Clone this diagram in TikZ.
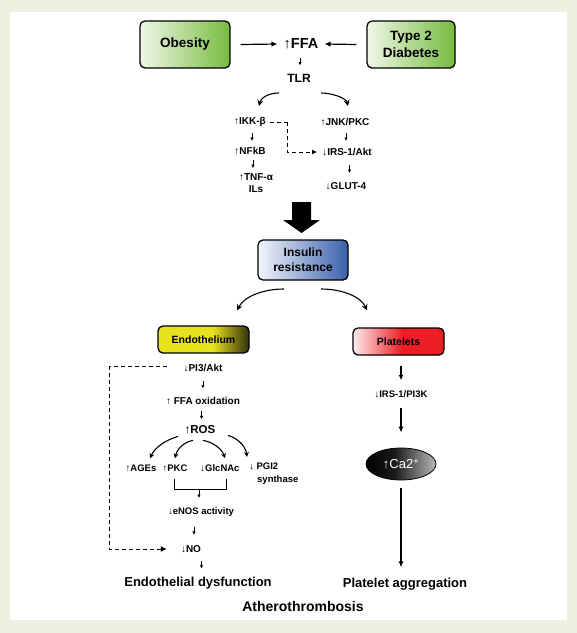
\documentclass[tikz,border=0pt]{standalone}
\usepackage{fontspec}
\setmainfont{Liberation Sans}
\usetikzlibrary{arrows.meta,calc,shapes.geometric}
\definecolor{bgbeige}{RGB}{240,240,226}
\definecolor{obL}{RGB}{240,247,232}
\definecolor{obR}{RGB}{118,188,64}
\definecolor{inL}{RGB}{244,247,252}
\definecolor{inR}{RGB}{58,96,172}
\definecolor{enY}{RGB}{232,226,30}
\definecolor{enD}{RGB}{50,48,12}
\definecolor{plL}{RGB}{253,236,238}
\definecolor{plR}{RGB}{236,30,38}
\definecolor{caR}{RGB}{185,185,185}
\pgfdeclarehorizontalshading{obshade}{100bp}{color(0bp)=(obL); color(25bp)=(obL); color(75bp)=(obR); color(100bp)=(obR)}
\pgfdeclarehorizontalshading{inshade}{100bp}{color(0bp)=(inL); color(25bp)=(inL); color(75bp)=(inR); color(100bp)=(inR)}
\pgfdeclarehorizontalshading{enshade}{100bp}{color(0bp)=(enY); color(25bp)=(enY); color(55bp)=(enY); color(75bp)=(enD); color(100bp)=(enD)}
\pgfdeclarehorizontalshading{plshade}{100bp}{color(0bp)=(plL); color(25bp)=(plL); color(52bp)=(plR); color(100bp)=(plR)}
\pgfdeclarehorizontalshading{cashade}{100bp}{color(0bp)=(black); color(25bp)=(black); color(45bp)=(black!90); color(75bp)=(caR); color(100bp)=(caR)}
\begin{document}
\begin{tikzpicture}[x=1pt,y=-1pt,
  box/.style={draw=black, line width=1.3pt, rounded corners=5pt, align=center, inner sep=0pt},
  lbl/.style={font=\bfseries\fontsize{10}{12}\selectfont, inner sep=1pt},
  slbl/.style={font=\bfseries\fontsize{9.5}{13}\selectfont, inner sep=1pt},
  sarr/.style={-{Latex[length=3.5pt,width=3.5pt]}, line width=0.9pt},
  harr/.style={-{Latex[length=6pt,width=5.5pt]}, line width=1.2pt},
  carr/.style={-{Stealth[length=6pt,width=6pt]}, line width=1.1pt},
  rarr/.style={-{Stealth[length=5pt,width=5pt]}, line width=1.1pt},
  varr/.style={-{Latex[length=6pt,width=5pt]}, line width=1.1pt},
  dline/.style={dash pattern=on 4pt off 3pt, line width=1pt}]
\useasboundingbox (0,0) rectangle (577,633);
\fill[bgbeige] (0,0) rectangle (577,633);
\fill[white] (10,12) rectangle (567,620);

% top row
\node[box, shading=obshade, minimum width=90pt, minimum height=47pt,
      font=\bfseries\fontsize{13.5}{17}\selectfont] (obesity) at (185,44.5) {Obesity};
\node[box, shading=obshade, minimum width=88pt, minimum height=47pt,
      font=\bfseries\fontsize{13.5}{17}\selectfont] (t2d) at (411,44.5) {Type 2\\Diabetes};
\node[font=\bfseries\fontsize{14.5}{16}\selectfont, inner sep=1pt] (ffa) at (301,44) {↑FFA};
\node[font=\bfseries\fontsize{12}{14}\selectfont, inner sep=1pt] (tlr) at (299,78) {TLR};
\draw[harr] ($(obesity.east)+(10,0)$) -- ($(ffa.west)+(-5,0)$);
\draw[harr] ($(t2d.west)+(-10,0)$) -- ($(ffa.east)+(5,0)$);
\draw[sarr] ($(ffa.south)!.5!(tlr.north)+(0,-4)$) -- ++(0,8);

% TLR branches
\node[lbl] (ikk) at (250,122) {↑IKK-β};
\node[lbl] (jnk) at (345,122) {↑JNK/PKC};
\node[lbl] (nfkb) at (250,151) {↑NFkB};
\node[lbl, align=center] (tnf) at (256,183) {↑TNF-α\\ILs};
\node[lbl] (irs) at (347,152) {↓IRS-1/Akt};
\node[lbl] (glut) at (346,186) {↓GLUT-4};
\coordinate (tlrL) at (279,93);
\coordinate (tlrR) at (321,93);
\draw[carr] (tlrL) .. controls (268,93) and (261,98) .. ($(ikk.north |- 0,106)+(9,0)$);
\draw[carr] (tlrR) .. controls (332,93) and (346,98) .. ($(jnk.north |- 0,106)+(3,0)$);
\draw[sarr] ($(ikk.south)!.5!(nfkb.north)+(2,-4)$) -- ++(0,8);
\draw[sarr] ($(nfkb.south)!.5!(tnf.north)+(0,-4)$) -- ++(0,8);
\draw[sarr] ($(jnk.south)!.5!(irs.north)+(0,-4)$) -- ++(0,8);
\draw[sarr] ($(irs.south)!.5!(glut.north)+(3,-4)$) -- ++(0,8);
\draw[dline] ($(ikk.east)+(3,0)$) -- ++(17,0) coordinate (ikkc);
\draw[dline, -{Latex[length=5pt,width=5pt]}] (ikkc) |- ($(irs.west)+(-4,0)$);

% big arrow
\fill[black] (292,202) -- (311,202) -- (311,220) -- (320,220) -- (301.5,233) -- (283,220) -- (292,220) -- cycle;

\node[box, shading=inshade, minimum width=90pt, minimum height=40pt,
      font=\bfseries\fontsize{12}{15}\selectfont] (ins) at (303,260) {Insulin\\resistance};

\node[box, shading=enshade, minimum width=91pt, minimum height=27pt,
      font=\bfseries\fontsize{10.5}{12}\selectfont] (endo) at (203.5,339.5) {Endothelium};
\node[box, shading=plshade, minimum width=91pt, minimum height=27pt,
      font=\bfseries\fontsize{10.5}{12}\selectfont] (plat) at (398.5,341.5) {Platelets};
\coordinate (insL) at (284,289);
\coordinate (insR) at (321,289);
\draw[carr] (insL) .. controls (262,289) and (244,297) .. ($(endo.north -| 237,0)+(0,-15)$);
\draw[carr] (insR) .. controls (343,289) and (361,297) .. ($(plat.north -| 367,0)+(0,-17)$);

% endothelium column
\node[lbl] (pi3) at (203,368) {↓PI3/Akt};
\node[lbl] (ffaox) at (203,401) {↑ FFA oxidation};
\node[font=\bfseries\fontsize{11.5}{13}\selectfont, inner sep=1pt] (ros) at (200,430) {↑ROS};
\node[slbl] (ages) at (141,468) {↑AGEs};
\node[slbl] (pkc) at (175,468) {↑PKC};
\node[slbl] (glc) at (220,468) {↓GlcNAc};
\node[slbl, align=left, anchor=north west] (pgi) at (248,462) {↓ PGI2\\\hspace*{8pt}synthase};
\node[slbl] (enos) at (201,512) {↓eNOS activity};
\node[lbl] (no) at (191,549) {↓NO};
\node[font=\bfseries\fontsize{13}{15}\selectfont, inner sep=1pt] (edys) at (198,583) {Endothelial dysfunction};
\draw[sarr] ($(pi3.south)!.5!(ffaox.north)+(0,-4)$) -- ++(0,8);
\draw[sarr] ($(ffaox.south)!.5!(ros.north)+(0,-4)$) -- ++(0,8);
\draw[rarr] ($(ros.south)+(-22,1)$) .. controls (166,440) and (155,447) .. ($(ages.north)+(9,-5)$);
\draw[rarr] ($(ros.south)+(-7,5)$) .. controls (184,442) and (177,449) .. ($(pkc.north)+(0,-5)$);
\draw[rarr] ($(ros.south)+(3,5)$) .. controls (213,442) and (222,449) .. ($(glc.north)+(5,-5)$);
\draw[rarr] ($(ros.south)+(28,0)$) .. controls (240,439) and (246,448) .. ($(pgi.north west)+(-1,-5)$);
\coordinate (brL) at (174,479);
\coordinate (brR) at (226,479);
\draw[line width=0.9pt] (brL) -- ++(0,10) coordinate (brLb) -- (brR |- brLb) -- (brR);
\draw[sarr] ($(brLb)!.48!(brR |- brLb)$) -- ++(0,9);
\draw[sarr] ($(enos.south)!.5!(no.north)+(-2,-4)$) -- ++(0,8);
\draw[sarr] ($(no.south)!.5!(edys.north)+(7,-4)$) -- ++(0,8);
\draw[dline] ($(pi3.west)+(-15,-2)$) -- ++(-58,0) coordinate (dl);
\draw[dline, -{Latex[length=6pt,width=6pt]}] (dl) |- ($(no.west)+(-13,0)$);

% platelets column
\node[slbl] (irs2) at (401,394) {↓IRS-1/PI3K};
\node[ellipse, draw=black, line width=0.8pt, shading=cashade, minimum width=70pt, minimum height=32pt,
      inner sep=0pt, text=white, font=\fontsize{13}{14}\selectfont] (ca) at (401,464) {↑Ca2\textsuperscript{+}};
\node[font=\bfseries\fontsize{13}{15}\selectfont, inner sep=1pt] (pagg) at (405,584) {Platelet aggregation};
\draw[varr, -{Latex[length=5pt,width=4.5pt]}] ($(plat.south -| irs2.north)+(0,10)$) -- ($(irs2.north)+(0,-9)$);
\draw[varr] ($(irs2.south)+(0,9)$) -- ($(irs2.south |- ca.north)+(0,-15)$);
\draw[varr] ($(ca.south)+(0,8)$) -- ($(ca.south)+(0,87)$);

\node[font=\bfseries\fontsize{14}{16}\selectfont, inner sep=1pt] (ath) at (303,606) {Atherothrombosis};
\end{tikzpicture}
\end{document}
